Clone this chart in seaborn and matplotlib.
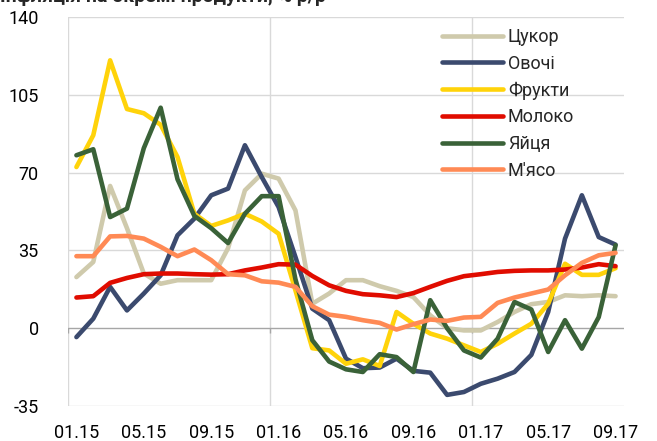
import matplotlib
matplotlib.use("Agg")
import matplotlib.pyplot as plt
import seaborn as sns
import pandas as pd

months = ["01.15", "02.15", "03.15", "04.15", "05.15", "06.15", "07.15", "08.15", "09.15",
          "10.15", "11.15", "12.15", "01.16", "02.16", "03.16", "04.16", "05.16", "06.16",
          "07.16", "08.16", "09.16", "10.16", "11.16", "12.16", "01.17", "02.17", "03.17",
          "04.17", "05.17", "06.17", "07.17", "08.17", "09.17"]
tick_labels = ["01.15", "05.15", "09.15", "01.16", "05.16", "09.16", "01.17", "05.17", "09.17"]
yticks = [-35, 0, 35, 70, 105, 140]

sugar = [23, 29.8, 64, 45, 24.6, 20, 21.6, 21.6, 21.6, 36, 62, 69.5, 67.3, 53, 11, 15.6, 21.6,
         21.6, 18.9, 16.8, 14, 5.8, 0, -1, -1, 2.8, 7.3, 10.8, 11.8, 14.8, 14.4, 14.8, 14.4]
vegetables = [-4, 4.3, 18.6, 8, 15.6, 23.8, 41.8, 49.3, 59.8, 62.8, 82.3, 68, 54.5, 32, 8.8, 3.6,
              -13.7, -18, -17.7, -13.7, -19.2, -20, -30, -28.7, -25, -22.7, -19.7, -12, 7.3,
              40.3, 59.8, 41, 37.6]
fruits = [72.5, 86.8, 120.5, 98.6, 96.7, 91.5, 77, 51.5, 46, 48.5, 51.5, 48, 42.5, 17, -9, -10,
          -16, -14, -17, 7.3, 2, -2.4, -4.7, -7.7, -10.7, -7, -2.4, 2, 11, 29, 24, 24, 27]
milk = [13.8, 14.4, 20.4, 22.6, 24.3, 24.6, 24.6, 24.3, 24.1, 24.3, 26, 27.3, 28.8, 28.6, 23.5,
        19.3, 16.8, 15.3, 14.8, 14, 15.8, 18.6, 21.3, 23.4, 24.3, 25.3, 25.8, 26, 26, 26.4,
        27.3, 28.8, 27.9]
eggs = [77.8, 80.5, 50, 53.8, 81, 99.2, 67, 50.5, 45, 38.3, 51.5, 59.4, 59.4, 22, -5.4, -15,
        -18.5, -19.7, -11.7, -13, -19.7, 12.6, 0, -10, -13.2, -4.7, 11.8, 8.4, -10.7, 3.6,
        -9.2, 5, 37.3]
meat = [32.4, 32.4, 41.3, 41.5, 40.3, 36.6, 32.4, 35.4, 30.6, 24.3, 23.8, 21.1, 20.5, 18.6,
        9.9, 6.1, 5.1, 3.6, 2.4, -0.6, 1.8, 3.9, 3.3, 4.8, 5.1, 11.4, 13.8, 15.6, 17.4, 23.8,
        29.4, 32.8, 33.9]

series_names = ["Цукор", "Овочі", "Фрукти", "Молоко", "Яйця", "М'ясо"]
series_values = [sugar, vegetables, fruits, milk, eggs, meat]
colors = ["#CFCAAC", "#3B4A6E", "#FFD30A", "#E00C00", "#3A6238", "#FF8A55"]

rows = []
for name, vals in zip(series_names, series_values):
    for i, v in enumerate(vals):
        rows.append({"idx": i, "month": months[i], "value": v, "series": name})
df = pd.DataFrame(rows)

sns.set_style("white")
plt.rcParams["font.family"] = ["Roboto", "DejaVu Sans"]

fig = plt.figure(figsize=(6.57, 4.41), dpi=100)
ax = fig.add_axes([68 / 657, 1 - 406 / 441, (624 - 68) / 657, (406 - 17) / 441])

# gridlines
for y in yticks:
    if y == 0:
        continue
    ax.axhline(y, color="#D9D9D9", lw=1.0, zorder=0)
for xv in [-0.5, 11.5, 23.5]:
    ax.axvline(xv, color="#D9D9D9", lw=1.0, zorder=0)
ax.axhline(0, color="#A6A6A6", lw=1.0, zorder=0.5)
ax.vlines([-0.5, 11.5, 23.5], -2.2, 0, color="#A6A6A6", lw=1.0, zorder=0.5)

sns.lineplot(data=df, x="idx", y="value", hue="series", hue_order=series_names,
             palette=colors, linewidth=3.3, ax=ax, legend=True,
             solid_capstyle="round", solid_joinstyle="round")

ax.set_xlim(-0.5, 32.5)
ax.set_ylim(-35, 140)
tick_pos = [months.index(t) for t in tick_labels]
ax.set_xticks(tick_pos)
ax.set_xticklabels(tick_labels)
ax.set_yticks(yticks)
ax.set_yticklabels([str(t) for t in yticks])
ax.tick_params(axis="both", length=0, labelsize=13, colors="#000000")
ax.tick_params(axis="x", pad=13)
ax.tick_params(axis="y", pad=21)
for lbl in ax.get_yticklabels():
    lbl.set_horizontalalignment("right")
ax.set_xlabel("")
ax.set_ylabel("")
for s in ax.spines.values():
    s.set_visible(False)

leg = ax.legend(loc="upper left", bbox_to_anchor=(442 / 657, 1 - 28 / 441),
                bbox_transform=fig.transFigure, frameon=False, fontsize=13,
                handlelength=3.4, handletextpad=0.25, labelspacing=0.48,
                borderpad=0, borderaxespad=0)
for h in leg.get_lines():
    h.set_linewidth(3.3)
    h.set_solid_capstyle("round")

fig.text(0.0, 1 - 2.5 / 441, "Інфляція на окремі продукти, % р/р", fontsize=14,
         fontweight="bold", va="baseline", ha="left")

fig.savefig("out.png", dpi=100)
